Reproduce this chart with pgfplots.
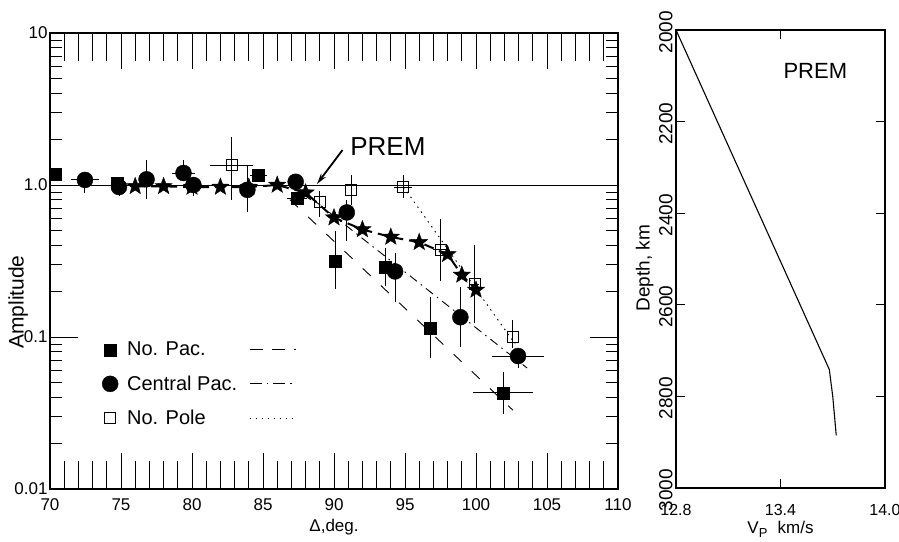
\documentclass[border=0pt]{standalone}
\usepackage{fontspec}
\setmainfont{Liberation Sans}
\usepackage{pgfplots}
\usepackage{pgfplotstable}
\pgfplotsset{compat=1.18}
\usetikzlibrary{arrows.meta}

% filled five-pointed star mark
\pgfdeclareplotmark{fstar}{%
  \pgfpathmoveto{\pgfpointpolar{90}{\pgfplotmarksize}}%
  \pgfpathlineto{\pgfpointpolar{126}{0.42\pgfplotmarksize}}%
  \pgfpathlineto{\pgfpointpolar{162}{\pgfplotmarksize}}%
  \pgfpathlineto{\pgfpointpolar{198}{0.42\pgfplotmarksize}}%
  \pgfpathlineto{\pgfpointpolar{234}{\pgfplotmarksize}}%
  \pgfpathlineto{\pgfpointpolar{270}{0.42\pgfplotmarksize}}%
  \pgfpathlineto{\pgfpointpolar{306}{\pgfplotmarksize}}%
  \pgfpathlineto{\pgfpointpolar{342}{0.42\pgfplotmarksize}}%
  \pgfpathlineto{\pgfpointpolar{18}{\pgfplotmarksize}}%
  \pgfpathlineto{\pgfpointpolar{54}{0.42\pgfplotmarksize}}%
  \pgfpathclose
  \pgfusepathqfillstroke}

% x y  x+ x-  y+ y-
\pgfplotstableread{
x y exp exm eyp eym
70.35 1.18 0 0 0 0
74.7 1.03 0 0 0 0
84.65 1.16 0.6 0.6 0 0
87.4 0.82 0.7 0.7 0 0
90.07 0.316 0 0 0.18 0.11
93.6 0.288 0 0 0.10 0.07
96.76 0.115 0 0 0.068 0.042
101.9 0.043 2.1 2.1 0.016 0.012
}\nopac

\pgfplotstableread{
x y exp exm eyp eym
72.46 1.08 1.0 1.0 0.12 0.19
74.86 0.97 0 0 0 0.12
76.8 1.09 0 0 0.37 0.28
79.4 1.2 0.8 0.8 0.25 0
80.1 1.0 0 0 0 0.15
83.9 0.93 0 0 0.42 0.27
87.3 1.05 0 0 0 0
90.9 0.66 0 0 0.14 0.23
94.3 0.27 0 0 0.087 0.10
98.9 0.135 0.5 0.5 0.078 0.049
102.96 0.075 1.8 1.8 0.01 0.012
}\cenpac

\pgfplotstableread{
x y exp exm eyp eym
82.8 1.35 1.5 1.5 0.72 0.55
89.0 0.77 0 0 0.15 0.15
91.2 0.93 0 0 0.23 0.19
94.86 0.97 0.6 0.6 0.2 0.15
97.5 0.374 0.5 0.5 0.22 0.14
99.9 0.223 0.3 0.3 0.18 0.1
102.6 0.1 0 0 0.03 0.015
}\nopole

\pgfplotstableread{
x y
76 0.98
78 0.98
80 0.97
82 0.97
84 0.97
86 1.0
88 0.89
90 0.61
92 0.51
94 0.455
96 0.42
98 0.35
99 0.256
100 0.204
}\premsyn

\pgfplotsset{
  errs/.style={error bars/.cd, x dir=both, x explicit, y dir=both, y explicit,
    error mark=none, error bar style={line width=0.9pt, black}},
}

\begin{document}
\begin{tikzpicture}[x=1pt,y=1pt]
\useasboundingbox (0,0) rectangle (899,-541);

% left panel: y ticks and labels
\begin{axis}[
  at={(50pt,-489pt)}, anchor=south west,
  scale only axis, width=568pt, height=456pt,
  xmin=70, xmax=110, ymin=0.01, ymax=10, ymode=log,
  xtick=\empty, xminorticks=false,
  ytick={0.01,0.1,1,10}, yticklabels={0.01,0.1,1.0,10},
  minor ytick={0.02,0.03,0.04,0.05,0.06,0.07,0.08,0.09,0.2,0.3,0.4,0.5,0.6,0.7,0.8,0.9,2,3,4,5,6,7,8,9},
  tick align=inside, major tick length=28pt, minor tick length=12pt,
  every tick/.style={black, line width=0.8pt},
  axis line style={draw=none},
  tick label style={font=\fontsize{17}{20}\selectfont},
  yticklabel style={xshift=1pt},
  ylabel={Amplitude},
  ylabel style={font=\fontsize{21}{24}\selectfont, at={(axis description cs:-0.056,0.41)}, anchor=center},
]
\end{axis}

% left panel: x ticks and data
\begin{axis}[
  at={(50pt,-489pt)}, anchor=south west,
  scale only axis, width=568pt, height=456pt,
  xmin=70, xmax=110, ymin=0.01, ymax=10, ymode=log,
  xtick={70,75,...,110}, minor x tick num=4,
  ytick=\empty, yminorticks=false,
  tick align=inside, major tick length=36pt, minor tick length=28pt,
  every tick/.style={black, line width=0.8pt},
  axis line style={line width=1.2pt},
  /pgf/number format/assume math mode=true,
  tick label style={font=\fontsize{17}{20}\selectfont},
  xticklabel style={yshift=-6pt},
  xlabel={Δ,deg.},
  xlabel style={font=\fontsize{17}{20}\selectfont, yshift=-2pt},
  legend columns=2,
  legend cell align=left,
  legend style={at={(0.0915,0.327)}, anchor=north west, draw=none, fill=none,
    inner sep=0pt, row sep=14.5pt, font=\fontsize{20}{22}\selectfont,
    /tikz/every odd column/.append style={column sep=7pt},
    /tikz/every even column/.append style={column sep=10pt}},
]
\addplot[forget plot, black, line width=0.7pt] coordinates {(70,1) (110,1)};
% fitted lines
\addplot[forget plot, black, line width=0.9pt, dash pattern=on 11pt off 14pt] coordinates {(86.9,0.80) (102.6,0.033)};
\addplot[forget plot, black, line width=0.9pt, dash pattern=on 9pt off 5pt on 1.5pt off 5pt] coordinates {(87.4,0.97) (103.6,0.0625)};
\addplot[forget plot, black, line width=0.9pt, dash pattern=on 1.5pt off 4.5pt] coordinates {(94.9,0.97) (102.75,0.09)};
% synthetic PREM amplitudes
\addplot[forget plot, black, line width=2pt, dash pattern=on 10pt off 6pt,
  mark=fstar, mark size=9pt, mark options={solid, line width=0.4pt}] table[x=x,y=y]{\premsyn};
% observations
\addplot[forget plot, only marks, mark=square*, mark size=6pt, black, errs]
  table[x=x, y=y, x error plus=exp, x error minus=exm, y error plus=eyp, y error minus=eym]{\nopac};
\addplot[forget plot, only marks, mark=*, mark size=8pt, black, errs]
  table[x=x, y=y, x error plus=exp, x error minus=exm, y error plus=eyp, y error minus=eym]{\cenpac};
\addplot[forget plot, only marks, mark=square, mark size=5.5pt, black, mark options={line width=1pt}, errs]
  table[x=x, y=y, x error plus=exp, x error minus=exm, y error plus=eyp, y error minus=eym]{\nopole};

\addlegendimage{only marks, mark=square*, mark size=6pt, black}
\addlegendentry{No. Pac.}
\addlegendimage{legend image code/.code={\draw[black, line width=0.9pt, dash pattern=on 13pt off 9pt] (0pt,0pt) -- (46pt,0pt);}}
\addlegendentry{}
\addlegendimage{only marks, mark=*, mark size=8pt, black}
\addlegendentry{Central Pac.}
\addlegendimage{legend image code/.code={\draw[black, line width=0.9pt, dash pattern=on 12pt off 5pt on 1.5pt off 5pt] (0pt,0pt) -- (46pt,0pt);}}
\addlegendentry{}
\addlegendimage{only marks, mark=square, mark size=5.5pt, black, mark options={line width=0.8pt}}
\addlegendentry{No. Pole}
\addlegendimage{legend image code/.code={\draw[black, line width=0.8pt, dash pattern=on 1.5pt off 4.5pt] (0pt,0pt) -- (46pt,0pt);}}
\addlegendentry{}

\node[anchor=west, font=\fontsize{26}{28}\selectfont] at (axis cs:90.9,1.78) {PREM};
\draw[line width=1.8pt, -{Stealth[length=11pt, width=6pt]}] (axis cs:90.6,1.70) -- (axis cs:88.8,1.015);
\end{axis}

% right panel: PREM velocity profile
\begin{axis}[
  at={(676pt,-488pt)}, anchor=south west,
  scale only axis, width=209pt, height=458pt,
  xmin=12.8, xmax=14.0, ymin=2000, ymax=3000, y dir=reverse,
  xtick={12.8,13.4,14.0}, xticklabels={12.8,13.4,14.0},
  ytick={2000,2200,2400,2600,2800,3000},
  yticklabels={2000,2200,2400,2600,2800,3000},
  tick align=inside, major tick length=9pt,
  every tick/.style={black, line width=0.8pt},
  axis line style={line width=1.2pt},
  xticklabel style={font=\fontsize{16}{18}\selectfont, yshift=-13pt},
  yticklabel style={font=\fontsize{19}{21}\selectfont, rotate=90, anchor=south, xshift=-2pt},
  ylabel={Depth, km},
  ylabel style={font=\fontsize{19}{21}\selectfont, at={(axis description cs:-0.15,0.48)}, anchor=center},
  xlabel={V\raisebox{-0.35ex}{\fontsize{13}{14}\selectfont P}\hspace{0.6em}km/s},
  xlabel style={font=\fontsize{17}{19}\selectfont, at={(axis description cs:0.5,0)}, anchor=north, yshift=-30pt},
]
\addplot[black, line width=1.1pt] coordinates {(12.8,2000) (13.68,2741) (13.70,2800) (13.72,2885)};
\node[font=\fontsize{22}{24}\selectfont] at (axis cs:13.6,2090) {PREM};
\end{axis}
\end{tikzpicture}
\end{document}
